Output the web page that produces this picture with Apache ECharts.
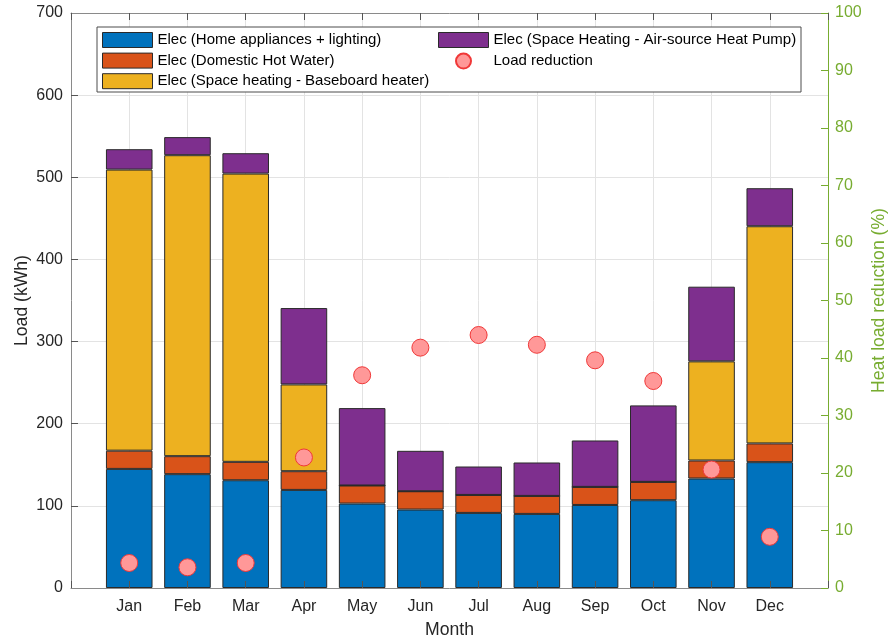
<!DOCTYPE html>
<html>
<head>
<meta charset="utf-8">
<script src="https://cdn.jsdelivr.net/npm/echarts@6/dist/echarts.min.js"></script>
<style>
  html, body { margin: 0; padding: 0; background: #fff; }
  #chart { width: 890px; height: 641px; }
</style>
</head>
<body>
<div id="chart"></div>
<script>
// Monthly electricity load by end use (kWh) and heat-load reduction (%)
const months = ['Jan', 'Feb', 'Mar', 'Apr', 'May', 'Jun', 'Jul', 'Aug', 'Sep', 'Oct', 'Nov', 'Dec'];
const homeAppliances = [145.0, 138.6, 131.2, 119.4, 102.8, 95.5, 91.4, 90.2, 101.1, 106.9, 133.3, 153.2];
const hotWater       = [22.2, 21.9, 22.4, 22.8, 22.0, 22.3, 21.9, 21.9, 22.0, 22.3, 21.9, 22.8];
const baseboard      = [342.2, 366.4, 350.9, 105.6, 0, 0, 0, 0, 0, 0, 120.7, 264.4];
const heatPump       = [24.8, 22.0, 24.8, 93.0, 94.2, 49.2, 34.6, 40.7, 56.5, 93.1, 90.9, 46.3];
const loadReduction  = [4.35, 3.6, 4.35, 22.7, 37.0, 41.8, 44.0, 42.3, 39.6, 36.0, 20.6, 8.9];
const leftTicks  = { min: 0, max: 700, step: 100 };
const rightTicks = { min: 0, max: 100, step: 10 };

const seriesNames = [
  'Elec (Home appliances + lighting)',
  'Elec (Domestic Hot Water)',
  'Elec (Space heating - Baseboard heater)',
  'Elec (Space Heating - Air-source Heat Pump)',
  'Load reduction'
];

// The month axis runs one step past each end month, so pad it with blank slots.
const axisSlots = [' '].concat(months, ['  ']);

const FONT = "'Liberation Sans', Arial, Helvetica, sans-serif";
const TEXT = '#262626';
const FRAME = '#8a8a8a';
const TICK = '#555555';
const GREEN = '#77ac30';
const GRIDLINE = '#e3e3e3';

const toPoints = arr => arr.map((v, i) => [months[i], v]);

function barSeries(name, values, color) {
  return {
    name: name,
    type: 'bar',
    stack: 'load',
    xAxisIndex: 0,
    yAxisIndex: 0,
    barWidth: '80%',
    data: toPoints(values),
    itemStyle: { color: color, borderColor: '#2a2a2a', borderWidth: 1 },
    emphasis: { disabled: true }
  };
}

function monthAxis(extra) {
  return Object.assign({
    type: 'category',
    data: axisSlots,
    boundaryGap: false,
    axisLine: { show: false, onZero: false },
    axisTick: { show: false },
    axisLabel: { show: false },
    splitLine: { show: false }
  }, extra);
}

const legendText = { fontSize: 15, color: '#000', fontFamily: FONT };

const chart = echarts.init(document.getElementById('chart'), null, { renderer: 'canvas' });

chart.setOption({
  animation: false,
  backgroundColor: '#ffffff',
  textStyle: { fontFamily: FONT },
  grid: { left: 71, right: 62, top: 13, bottom: 53, containLabel: false, outerBoundsMode: 'none' },
  graphic: [{
    type: 'rect',
    z: 3,
    shape: { x: 97, y: 27, width: 704, height: 65 },
    style: { fill: '#ffffff', stroke: '#4d4d4d', lineWidth: 1 }
  }],
  legend: [
    {
      z: 5,
      left: 102, top: 32,
      orient: 'vertical',
      itemWidth: 50, itemHeight: 15, itemGap: 4.6,
      padding: 0,
      selectedMode: false,
      itemStyle: { borderWidth: 1, borderColor: '#2a2a2a' },
      textStyle: legendText,
      data: [0, 1, 2].map(i => ({ name: seriesNames[i], icon: 'rect' }))
    },
    {
      z: 5,
      left: 438, top: 32,
      orient: 'vertical',
      itemWidth: 50, itemHeight: 15, itemGap: 4.6,
      padding: 0,
      selectedMode: false,
      textStyle: legendText,
      data: [
        { name: seriesNames[3], icon: 'rect', itemStyle: { borderWidth: 1, borderColor: '#2a2a2a' } },
        { name: seriesNames[4], icon: 'circle' }
      ]
    }
  ],
  xAxis: [
    monthAxis({
      // month labels and vertical grid lines
      position: 'bottom',
      name: 'Month', nameLocation: 'middle', nameGap: 33, nameMoveOverlap: false,
      nameTextStyle: { fontSize: 17.6, color: TEXT, fontFamily: FONT },
      axisLabel: { show: true, interval: 0, fontSize: 16, color: TEXT, margin: 11, fontFamily: FONT },
      splitLine: { show: true, interval: 0, lineStyle: { color: GRIDLINE, width: 1 } }
    }),
    monthAxis({
      // bottom frame edge, inward ticks drawn over the bars
      position: 'bottom', z: 6,
      axisLine: { show: true, onZero: false, lineStyle: { color: FRAME, width: 1 } },
      axisTick: { show: true, interval: 0, inside: true, length: 7, lineStyle: { color: TICK, width: 1 } }
    }),
    monthAxis({
      // top frame edge
      position: 'top', z: 6,
      axisLine: { show: true, onZero: false, lineStyle: { color: FRAME, width: 1 } },
      axisTick: { show: true, interval: 0, inside: true, length: 7, lineStyle: { color: TICK, width: 1 } }
    })
  ],
  yAxis: [
    {
      type: 'value', position: 'left',
      min: leftTicks.min, max: leftTicks.max, interval: leftTicks.step,
      name: 'Load (kWh)', nameLocation: 'middle', nameGap: 40, nameMoveOverlap: false,
      nameTextStyle: { fontSize: 17.6, color: TEXT, fontFamily: FONT },
      axisLine: { show: true, onZero: false, lineStyle: { color: FRAME, width: 1 } },
      axisTick: { show: true, inside: true, length: 7, lineStyle: { color: TICK, width: 1 } },
      axisLabel: { fontSize: 16, color: TEXT, margin: 8, fontFamily: FONT },
      splitLine: { show: true, lineStyle: { color: GRIDLINE, width: 1 } }
    },
    {
      type: 'value', position: 'right', z: 6,
      min: rightTicks.min, max: rightTicks.max, interval: rightTicks.step,
      name: 'Heat load reduction (%)', nameLocation: 'middle', nameGap: 42, nameMoveOverlap: false,
      nameTextStyle: { fontSize: 17.6, color: GREEN, fontFamily: FONT },
      axisLine: { show: true, onZero: false, lineStyle: { color: GREEN, width: 1 } },
      axisTick: { show: true, inside: true, length: 7, lineStyle: { color: GREEN, width: 1 } },
      axisLabel: { fontSize: 16, color: GREEN, margin: 7, fontFamily: FONT },
      splitLine: { show: false }
    }
  ],
  series: [
    barSeries(seriesNames[0], homeAppliances, '#0072bd'),
    barSeries(seriesNames[1], hotWater, '#d95319'),
    barSeries(seriesNames[2], baseboard, '#edb120'),
    barSeries(seriesNames[3], heatPump, '#7e2f8e'),
    {
      name: seriesNames[4],
      type: 'scatter',
      xAxisIndex: 0,
      yAxisIndex: 1,
      z: 4,
      symbol: 'circle',
      symbolSize: 17,
      data: toPoints(loadReduction),
      itemStyle: { color: '#ff9898', borderColor: '#f03838', borderWidth: 1, opacity: 1 },
      emphasis: { disabled: true }
    }
  ]
});
</script>
</body>
</html>
